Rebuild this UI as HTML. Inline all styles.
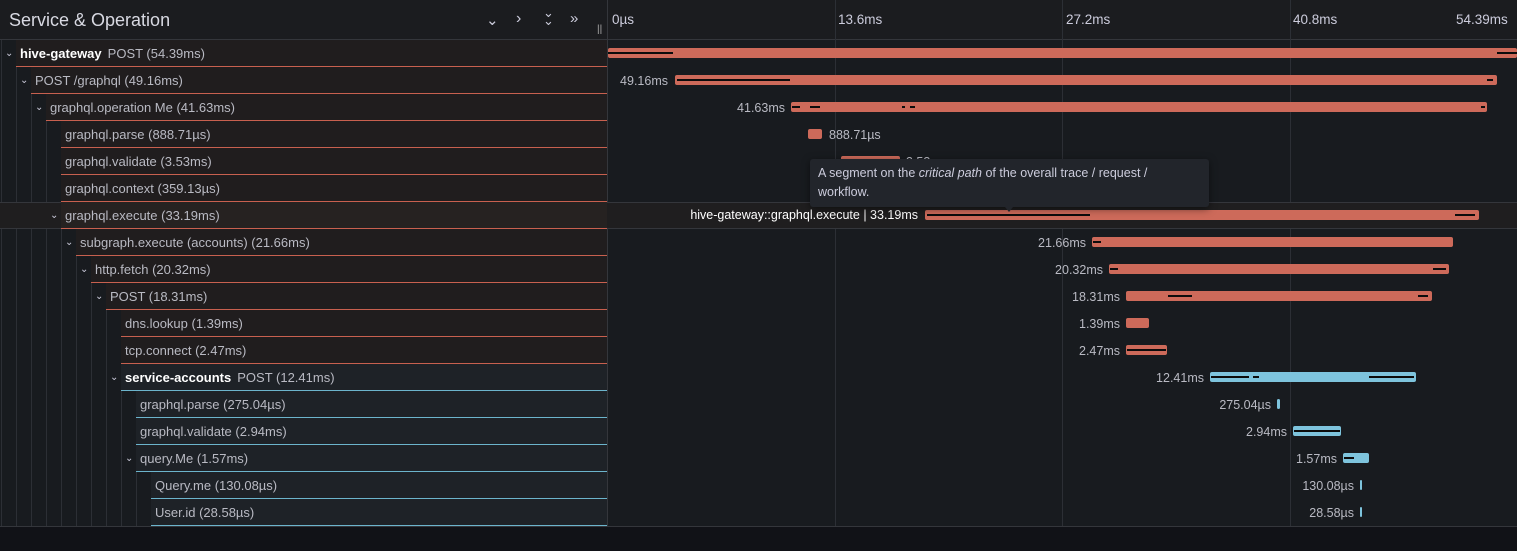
<!DOCTYPE html>
<html><head><meta charset="utf-8"><style>
*{margin:0;padding:0;box-sizing:border-box}
body{width:1517px;height:551px;background:#111217;overflow:hidden;font-family:"Liberation Sans",sans-serif;font-size:13px;color:#ccccdc;position:relative}
.a{position:absolute}
#main{left:0;top:0;width:1517px;height:527px;background:#181b1f}
.hdr{left:0;top:0;width:1517px;height:40px;background:#1b1c1f;border-bottom:1px solid #34363b}
.vl{position:absolute;top:40px;height:487px;width:1px;background:#2c2f35}
.gl{position:absolute;top:0;height:527px;width:1px;background:#2c2f35}
.row{position:absolute;height:26px;right:910px;line-height:28px;white-space:nowrap}
.row::after{content:"";position:absolute;left:0;right:0;bottom:-1px;height:1px}
.r{background:#201d1e}.r::after{background:#c8604f}
.b{background:#1e2227}.b::after{background:#6cb4cc}
.row span{color:#b9bac3}
.row b{color:#fff;font-weight:bold;margin-right:6px}
.ch{position:absolute;font-size:10px;color:#ccccdc;line-height:28px}
.bar{position:absolute;height:10px;border-radius:2px}
.br{background:#cd6a5a}.bb{background:#7ec4dd}
.cp{position:absolute;top:4px;height:2px;background:#0c0c0c}
.lb{position:absolute;font-size:12.5px;color:#b9bac3;text-align:right;white-space:nowrap}
.tk{position:absolute;top:12px;font-size:13.5px;color:#ccccdc}
</style></head><body>
<div id="main" class="a"></div>
<div class="a hdr"></div>
<div class="a" style="left:607px;top:0;width:1px;height:527px;background:#34363b"></div>
<div class="a" style="left:9px;top:10px;font-size:18px;color:#d8d9e2">Service &amp; Operation</div>
<div class="a" style="left:486px;top:11px;font-size:15px;color:#ccccdc">⌄</div>
<div class="a" style="left:516px;top:10px;font-size:16px;color:#ccccdc">›</div>
<div class="a" style="left:543px;top:9px;font-size:13px;color:#ccccdc;line-height:8px">⌄<br>⌄</div>
<div class="a" style="left:570px;top:10px;font-size:15px;color:#ccccdc">»</div>
<div class="a" style="left:597px;top:24px;font-size:10px;color:#aaa">||</div>
<div class="gl" style="left:835px"></div><div class="gl" style="left:1062px"></div><div class="gl" style="left:1290px"></div>
<div class="tk" style="left:612px">0µs</div>
<div class="tk" style="left:838px">13.6ms</div>
<div class="tk" style="left:1066px">27.2ms</div>
<div class="tk" style="left:1293px">40.8ms</div>
<div class="tk" style="left:1456px">54.39ms</div>
<div class="vl" style="left:1px"></div><div class="vl" style="left:16px"></div><div class="vl" style="left:31px"></div><div class="vl" style="left:46px"></div><div class="vl" style="left:61px"></div><div class="vl" style="left:76px"></div><div class="vl" style="left:91px"></div><div class="vl" style="left:106px"></div><div class="vl" style="left:121px"></div><div class="vl" style="left:136px"></div><div class="vl" style="left:151px"></div>
<div class="a" style="left:0;top:202px;width:1517px;height:27px;background:#1f1e1f;border-top:1px solid #34363b;border-bottom:1px solid #34363b"></div>
<div class="row r" style="top:40px;left:16px;padding-left:4px"><b>hive-gateway</b><span>POST (54.39ms)</span></div><div class="ch" style="left:5px;top:40px">⌄</div>
<div class="row r" style="top:67px;left:31px;padding-left:4px"><span>POST /graphql (49.16ms)</span></div><div class="ch" style="left:20px;top:67px">⌄</div>
<div class="row r" style="top:94px;left:46px;padding-left:4px"><span>graphql.operation Me (41.63ms)</span></div><div class="ch" style="left:35px;top:94px">⌄</div>
<div class="row r" style="top:121px;left:61px;padding-left:4px"><span>graphql.parse (888.71µs)</span></div>
<div class="row r" style="top:148px;left:61px;padding-left:4px"><span>graphql.validate (3.53ms)</span></div>
<div class="row r" style="top:175px;left:61px;padding-left:4px"><span>graphql.context (359.13µs)</span></div>
<div class="row r" style="top:202px;left:61px;padding-left:4px;background:#262221"><span>graphql.execute (33.19ms)</span></div><div class="ch" style="left:50px;top:202px">⌄</div>
<div class="row r" style="top:229px;left:76px;padding-left:4px"><span>subgraph.execute (accounts) (21.66ms)</span></div><div class="ch" style="left:65px;top:229px">⌄</div>
<div class="row r" style="top:256px;left:91px;padding-left:4px"><span>http.fetch (20.32ms)</span></div><div class="ch" style="left:80px;top:256px">⌄</div>
<div class="row r" style="top:283px;left:106px;padding-left:4px"><span>POST (18.31ms)</span></div><div class="ch" style="left:95px;top:283px">⌄</div>
<div class="row r" style="top:310px;left:121px;padding-left:4px"><span>dns.lookup (1.39ms)</span></div>
<div class="row r" style="top:337px;left:121px;padding-left:4px"><span>tcp.connect (2.47ms)</span></div>
<div class="row b" style="top:364px;left:121px;padding-left:4px"><b>service-accounts</b><span>POST (12.41ms)</span></div><div class="ch" style="left:110px;top:364px">⌄</div>
<div class="row b" style="top:391px;left:136px;padding-left:4px"><span>graphql.parse (275.04µs)</span></div>
<div class="row b" style="top:418px;left:136px;padding-left:4px"><span>graphql.validate (2.94ms)</span></div>
<div class="row b" style="top:445px;left:136px;padding-left:4px"><span>query.Me (1.57ms)</span></div><div class="ch" style="left:125px;top:445px">⌄</div>
<div class="row b" style="top:472px;left:151px;padding-left:4px"><span>Query.me (130.08µs)</span></div>
<div class="row b" style="top:499px;left:151px;padding-left:4px"><span>User.id (28.58µs)</span></div>
<div class="a" style="left:0;top:526px;width:1517px;height:1px;background:#34363b"></div>
<div class="bar br" style="left:608px;top:48px;width:909px"><div class="cp" style="left:0;width:65px"></div><div class="cp" style="left:889px;width:20px"></div></div>
<div class="lb" style="right:849px;top:74px">49.16ms</div>
<div class="bar br" style="left:675px;top:75px;width:822px"><div class="cp" style="left:2px;width:113px"></div><div class="cp" style="left:812px;width:6px"></div></div>
<div class="lb" style="right:732px;top:101px">41.63ms</div>
<div class="bar br" style="left:791px;top:102px;width:696px"><div class="cp" style="left:1px;width:8px"></div><div class="cp" style="left:19px;width:10px"></div><div class="cp" style="left:111px;width:3px"></div><div class="cp" style="left:119px;width:5px"></div><div class="cp" style="left:690px;width:4px"></div></div>
<div class="bar br" style="left:808px;top:129px;width:14px"></div>
<div class="lb" style="left:829px;top:128px">888.71µs</div>
<div class="bar br" style="left:841px;top:156px;width:59px"></div>
<div class="lb" style="left:906px;top:155px">3.53ms</div>
<div class="lb" style="right:599px;top:208px;color:#fff">hive-gateway::graphql.execute | 33.19ms</div>
<div class="bar br" style="left:925px;top:210px;width:554px"><div class="cp" style="left:2px;width:163px"></div><div class="cp" style="left:530px;width:20px"></div></div>
<div class="lb" style="right:431px;top:236px">21.66ms</div>
<div class="bar br" style="left:1092px;top:237px;width:361px"><div class="cp" style="left:1px;width:8px"></div></div>
<div class="lb" style="right:414px;top:263px">20.32ms</div>
<div class="bar br" style="left:1109px;top:264px;width:340px"><div class="cp" style="left:1px;width:8px"></div><div class="cp" style="left:324px;width:13px"></div></div>
<div class="lb" style="right:397px;top:290px">18.31ms</div>
<div class="bar br" style="left:1126px;top:291px;width:306px"><div class="cp" style="left:42px;width:24px"></div><div class="cp" style="left:292px;width:10px"></div></div>
<div class="lb" style="right:397px;top:317px">1.39ms</div>
<div class="bar br" style="left:1126px;top:318px;width:23px"></div>
<div class="lb" style="right:397px;top:344px">2.47ms</div>
<div class="bar br" style="left:1126px;top:345px;width:41px"><div class="cp" style="left:1px;width:39px"></div></div>
<div class="lb" style="right:313px;top:371px">12.41ms</div>
<div class="bar bb" style="left:1210px;top:372px;width:206px"><div class="cp" style="left:1px;width:38px"></div><div class="cp" style="left:43px;width:6px"></div><div class="cp" style="left:159px;width:45px"></div></div>
<div class="lb" style="right:246px;top:398px">275.04µs</div>
<div class="bar bb" style="left:1277px;top:399px;width:3px"></div>
<div class="lb" style="right:230px;top:425px">2.94ms</div>
<div class="bar bb" style="left:1293px;top:426px;width:48px"><div class="cp" style="left:1px;width:46px"></div></div>
<div class="lb" style="right:180px;top:452px">1.57ms</div>
<div class="bar bb" style="left:1343px;top:453px;width:26px"><div class="cp" style="left:1px;width:10px"></div></div>
<div class="lb" style="right:163px;top:479px">130.08µs</div>
<div class="bar bb" style="left:1360px;top:480px;width:2px"></div>
<div class="lb" style="right:163px;top:506px">28.58µs</div>
<div class="bar bb" style="left:1360px;top:507px;width:2px"></div>
<div class="a" style="left:810px;top:159px;width:399px;height:48px;background:#22252b;border-radius:3px;box-shadow:0 2px 8px rgba(0,0,0,.5);padding:5px 8px;font-size:12.5px;line-height:19px;color:#ccccdc">A segment on the <i>critical path</i> of the overall trace / request / workflow.</div>
<div class="a" style="left:1005px;top:207px;width:0;height:0;border-left:4px solid transparent;border-right:4px solid transparent;border-top:5px solid #22252b"></div>
</body></html>
